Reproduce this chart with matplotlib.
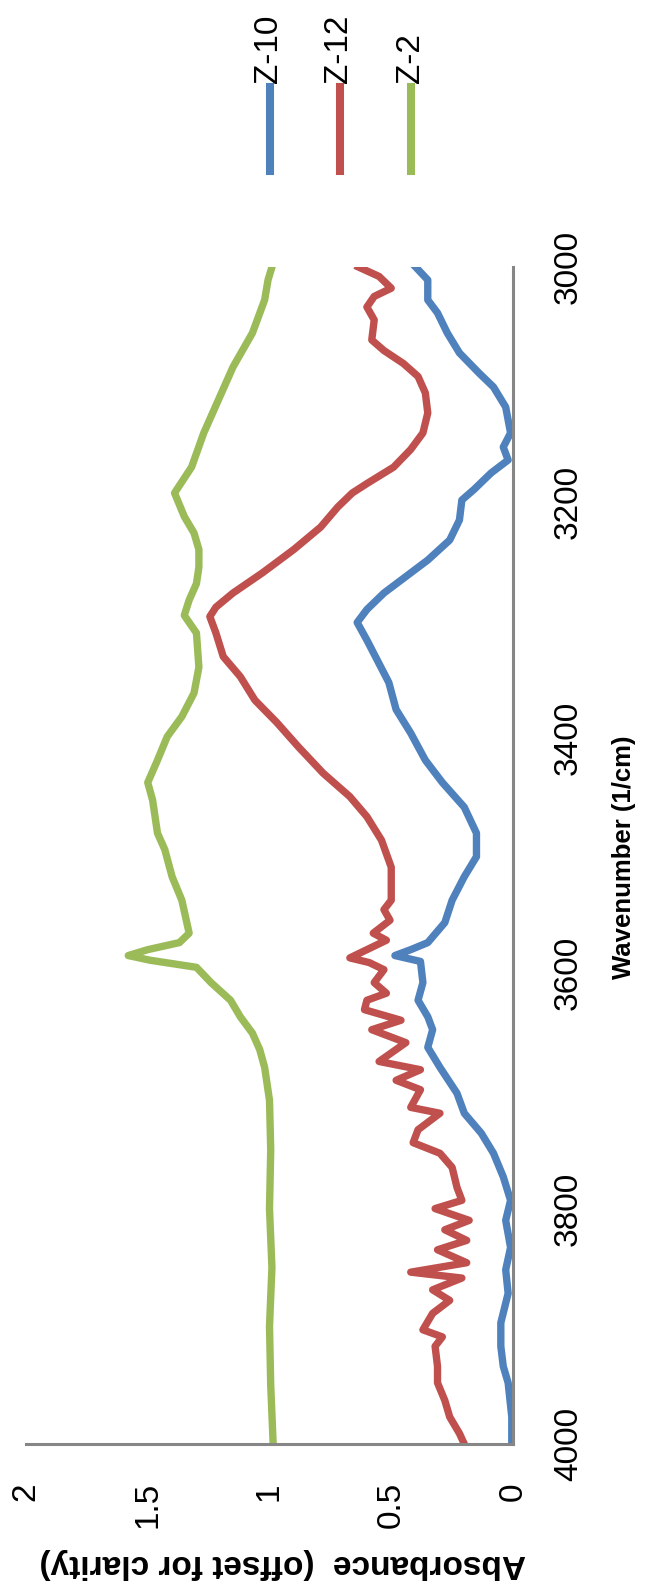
import matplotlib
matplotlib.use("Agg")
import matplotlib.pyplot as plt
from matplotlib.lines import Line2D

plt.rcParams['font.family'] = ['Liberation Sans', 'DejaVu Sans']

# FTIR spectra (wavenumber in 1/cm, absorbance offset for clarity)
wn_z10 = [3000, 3011, 3028, 3039, 3056, 3073, 3090, 3102, 3119, 3141, 3153, 3164,
          3175, 3189, 3198, 3215, 3232, 3249, 3263, 3277, 3291, 3302, 3317, 3325,
          3353, 3376, 3396, 3419, 3438, 3459, 3481, 3501, 3518, 3538, 3557, 3574,
          3580, 3585, 3590, 3608, 3623, 3637, 3648, 3663, 3680, 3702, 3719, 3736,
          3753, 3773, 3793, 3810, 3833, 3852, 3872, 3897, 3917, 3934, 3948, 3977, 4000]
abs_z10 = [0.40, 0.35, 0.35, 0.31, 0.27, 0.22, 0.14, 0.08, 0.03, 0.01, 0.04, 0.02,
           0.09, 0.16, 0.21, 0.22, 0.26, 0.35, 0.44, 0.53, 0.60, 0.64, 0.60, 0.58,
           0.51, 0.48, 0.42, 0.36, 0.29, 0.20, 0.15, 0.15, 0.20, 0.25, 0.28, 0.35,
           0.42, 0.485, 0.38, 0.37, 0.39, 0.35, 0.33, 0.35, 0.30, 0.23, 0.20, 0.13,
           0.08, 0.04, 0.01, 0.03, 0.01, 0.03, 0.02, 0.05, 0.05, 0.04, 0.02, 0.005, 0.005]

wn_z12 = [3000, 3008, 3018, 3025, 3034, 3045, 3062, 3071, 3082, 3093, 3107, 3124,
          3141, 3155, 3170, 3184, 3192, 3204, 3221, 3240, 3260, 3277, 3289, 3297,
          3311, 3331, 3348, 3368, 3387, 3408, 3430, 3450, 3467, 3487, 3510, 3527,
          3538, 3546, 3555, 3566, 3572, 3579, 3587, 3591, 3597, 3608, 3617, 3623,
          3631, 3640, 3648, 3659, 3675, 3682, 3691, 3699, 3714, 3719, 3733, 3744,
          3753, 3765, 3782, 3793, 3800, 3810, 3818, 3827, 3835, 3846, 3854, 3859,
          3869, 3878, 3889, 3903, 3909, 3917, 3934, 3948, 3963, 3977, 3991, 4000]
abs_z12 = [0.635, 0.55, 0.50, 0.57, 0.60, 0.57, 0.58, 0.53, 0.45, 0.39, 0.36, 0.35,
           0.37, 0.42, 0.49, 0.60, 0.66, 0.72, 0.79, 0.90, 1.03, 1.15, 1.22, 1.245,
           1.22, 1.19, 1.12, 1.06, 0.97, 0.88, 0.78, 0.67, 0.60, 0.54, 0.50, 0.50,
           0.50, 0.53, 0.505, 0.574, 0.52, 0.59, 0.67, 0.59, 0.53, 0.57, 0.52, 0.60,
           0.61, 0.46, 0.58, 0.44, 0.55, 0.38, 0.48, 0.38, 0.42, 0.30, 0.39, 0.41,
           0.30, 0.25, 0.23, 0.21, 0.32, 0.18, 0.28, 0.19, 0.31, 0.19, 0.42, 0.21,
           0.33, 0.26, 0.33, 0.37, 0.29, 0.32, 0.31, 0.31, 0.28, 0.26, 0.22, 0.20]

wn_z2 = [3000, 3011, 3028, 3056, 3085, 3113, 3141, 3170, 3192, 3212, 3226, 3240,
         3255, 3269, 3283, 3296, 3311, 3340, 3362, 3382, 3399, 3419, 3438, 3453,
         3481, 3495, 3518, 3538, 3566, 3574, 3580, 3585, 3589, 3595, 3608, 3623,
         3637, 3651, 3665, 3680, 3708, 3750, 3800, 3850, 3900, 3950, 4000]
abs_z2 = [0.99, 1.006, 1.02, 1.07, 1.15, 1.21, 1.27, 1.32, 1.39, 1.35, 1.31, 1.29,
          1.29, 1.30, 1.33, 1.35, 1.30, 1.29, 1.31, 1.36, 1.42, 1.46, 1.50, 1.48,
          1.46, 1.43, 1.40, 1.36, 1.33, 1.37, 1.50, 1.58, 1.49, 1.30, 1.24, 1.16,
          1.12, 1.07, 1.04, 1.02, 1.00, 0.995, 1.00, 0.99, 1.00, 0.995, 0.985]

series = [("Z-10", wn_z10, abs_z10, "#4F81BD"),
          ("Z-12", wn_z12, abs_z12, "#C0504D"),
          ("Z-2", wn_z2, abs_z2, "#9BBB59")]

W, H = 646, 1585
fig = plt.figure(figsize=(W / 100, H / 100), dpi=100)

# chart is laid out sideways: absorbance runs right-to-left, wavenumber bottom-to-top
ax = fig.add_axes([26 / W, (H - 1444) / H, (513 - 26) / W, (1444 - 267) / H])
for name, wn, ab, col in series:
    ax.plot(ab, wn, color=col, lw=5.3, solid_joinstyle='round')

ax.set_xlim(2, 0)
ax.set_ylim(4000, 3000)
ax.set_xticks([0, 0.5, 1, 1.5, 2])
ax.set_xticklabels(["0", "0.5", "1", "1.5", "2"])
ax.set_yticks([3000, 3200, 3400, 3600, 3800, 4000])
ax.yaxis.tick_right()

for s in ["top", "left"]:
    ax.spines[s].set_visible(False)
for s in ["bottom", "right"]:
    ax.spines[s].set_color("#868686")
    ax.spines[s].set_linewidth(2.2)

ax.tick_params(axis='x', length=0, pad=27.4, labelsize=24, labelrotation=90)
ax.tick_params(axis='y', length=0, pad=28.8, labelsize=24, labelrotation=90)
plt.setp(ax.get_yticklabels(), va='center')

# axis titles
fig.text(283 / W, (H - 1563) / H, "Absorbance  (offset for clarity)", rotation=180,
         ha='center', va='center', fontsize=24, fontweight='bold')
fig.text(624 / W, (H - 857) / H, "Wavenumber (1/cm)", rotation=90,
         ha='center', va='center', fontsize=18.5, fontweight='bold')

# legend drawn along the top edge
leg_x = [270, 340, 411]
for (name, wn, ab, col), lx in zip(series, leg_x):
    fig.add_artist(Line2D([lx / W, lx / W], [(H - 87) / H, (H - 171) / H],
                          color=col, lw=5.8, transform=fig.transFigure))
    fig.text((lx - 1) / W, (H - 83) / H, name, rotation=90,
             ha='center', va='bottom', fontsize=24)

fig.savefig("out.png", dpi=100)
